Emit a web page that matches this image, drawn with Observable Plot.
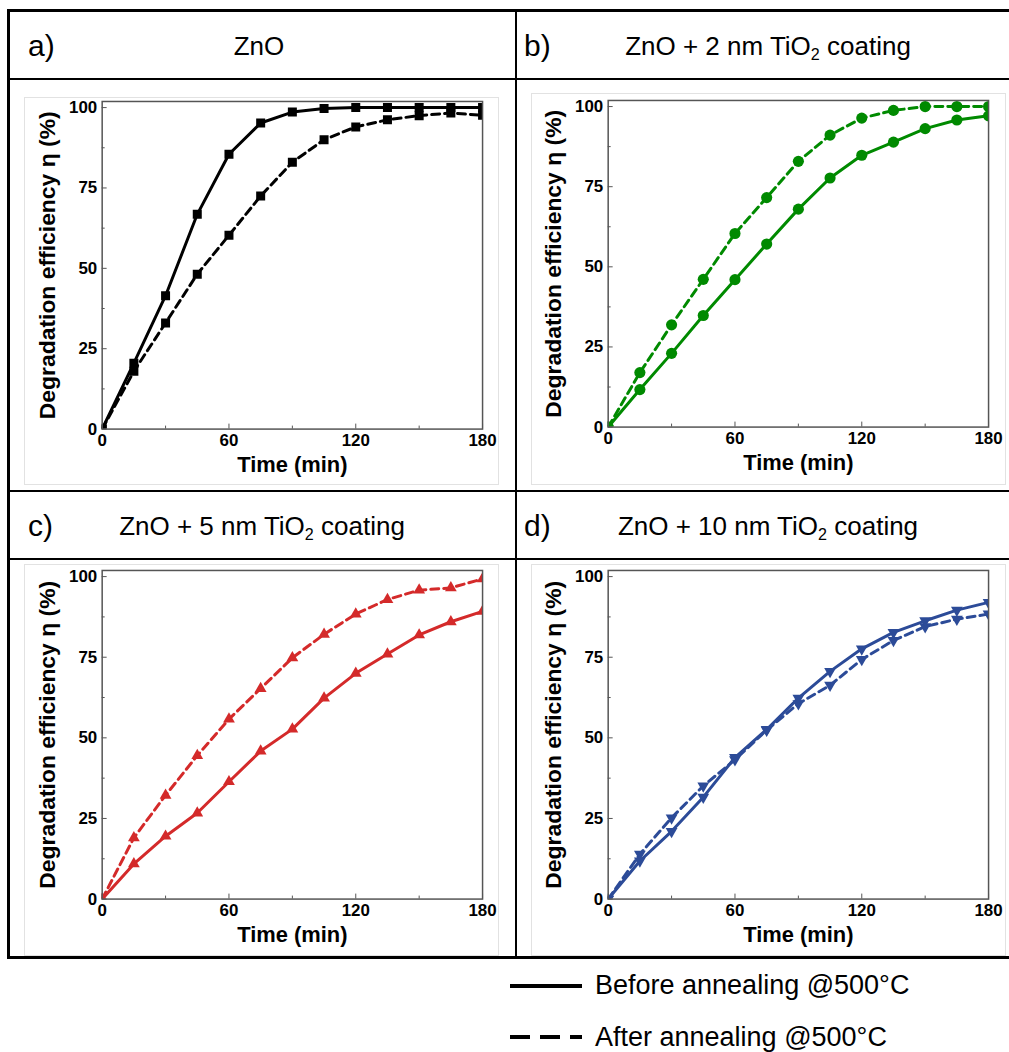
<!DOCTYPE html>
<html><head><meta charset="utf-8">
<script src="https://cdn.jsdelivr.net/npm/d3@7"></script>
<script src="https://cdn.jsdelivr.net/npm/@observablehq/plot@0.6"></script>
<style>
html,body{margin:0;padding:0;background:#fff;}
body{width:1009px;height:1052px;overflow:hidden;position:relative;font-family:"Liberation Sans",Arial,sans-serif;}
.ln{position:absolute;background:#000;}
.lab{position:absolute;font-size:30px;line-height:1;color:#000;}
.ttl{position:absolute;font-size:26px;line-height:1;color:#000;white-space:nowrap;transform:translateX(-50%);}
.ttl sub{font-size:0.62em;vertical-align:-0.3em;line-height:0;}
.box{position:absolute;border:1px solid #e2e2e2;box-sizing:border-box;background:#fff;}
.box svg{position:absolute;left:-1px;top:-1px;}
.leg{position:absolute;font-size:27px;line-height:1;color:#000;white-space:nowrap;}
</style></head><body>
<script>
// ---- data ----
const time = [0, 15, 30, 45, 60, 75, 90, 105, 120, 135, 150, 165, 180];
const znoBefore  = [0, 20.5, 41.5, 66.8, 85.5, 95.2, 98.6, 99.7, 100, 100, 100, 100, 100];
const znoAfter   = [0, 18.0, 33.0, 48.2, 60.3, 72.5, 83.0, 90.0, 94.0, 96.2, 97.5, 98.3, 97.6];
const ti2Before  = [0, 11.7, 23.0, 34.8, 46.0, 57.1, 68.0, 77.7, 84.8, 88.9, 93.1, 95.8, 97.1];
const ti2After   = [0, 17.0, 31.9, 46.1, 60.4, 71.6, 82.9, 91.1, 96.4, 98.8, 100, 100, 100];
const ti5Before  = [0, 10.9, 19.5, 26.7, 36.4, 45.9, 52.7, 62.3, 70.0, 76.0, 81.9, 86.0, 89.2];
const ti5After   = [0, 19.0, 32.2, 44.5, 55.8, 65.3, 74.8, 82.1, 88.4, 92.9, 95.8, 96.5, 99.3];
const ti10Before = [0, 11.8, 21.0, 31.6, 43.9, 52.6, 62.3, 70.6, 77.6, 82.7, 86.3, 89.6, 92.0];
const ti10After  = [0, 13.9, 25.2, 35.1, 43.2, 52.4, 60.6, 66.3, 74.3, 80.2, 84.5, 86.8, 88.4];

const xTicks = [0, 60, 120, 180];
const xMinor = [30, 90, 150];
const yTicks = [0, 25, 50, 75, 100];
const yMinor = [12.5, 37.5, 62.5, 87.5];
const xLabel = "Time (min)";
const yLabel = "Degradation efficiency \u03b7 (%)";
const seriesNames = ["Before annealing @500\u00b0C", "After annealing @500\u00b0C"];

const triangleDown = {
  draw(ctx, size) {
    const y = -Math.sqrt(size / (3 * Math.sqrt(3)));
    ctx.moveTo(0, -2 * y);
    ctx.lineTo(-Math.sqrt(3) * y, y);
    ctx.lineTo(Math.sqrt(3) * y, y);
    ctx.closePath();
  }
};

const panels = [
  {label: "a)", title: "ZnO", before: znoBefore, after: znoAfter, color: "#000000", symbol: "square", r: 5.1,
   box: [24, 97, 475, 388], m: [4, 15, 55, 78], lab: [28, 31], tc: 259, ty: 33},
  {label: "b)", title: "ZnO + 2 nm TiO<sub>2</sub> coating", before: ti2Before, after: ti2After, color: "#008a00", symbol: "circle", r: 5.6,
   box: [531, 93, 475, 392], m: [7, 16, 57, 77], lab: [524, 31], tc: 768, ty: 33},
  {label: "c)", title: "ZnO + 5 nm TiO<sub>2</sub> coating", before: ti5Before, after: ti5After, color: "#d42a2a", symbol: "triangle", r: 4.4,
   box: [24, 564, 475, 392], m: [6, 15, 56, 78], lab: [28, 511], tc: 262, ty: 513},
  {label: "d)", title: "ZnO + 10 nm TiO<sub>2</sub> coating", before: ti10Before, after: ti10After, color: "#2c4b98", symbol: triangleDown, r: 4.4,
   box: [531, 564, 475, 392], m: [6, 16, 56, 77], lab: [524, 511], tc: 768, ty: 513}
];

function line(l, t, w, h) {
  const d = document.createElement("div");
  d.className = "ln";
  Object.assign(d.style, {left: l + "px", top: t + "px", width: w + "px", height: h + "px"});
  document.body.appendChild(d);
}

for (const p of panels) {
  const [bl, bt, bw, bh] = p.box;
  const [mt, mr, mb, ml] = p.m;
  const rows = time.map((t, i) => ({t, before: p.before[i], after: p.after[i]}));
  const chart = Plot.plot({
    width: bw, height: bh,
    marginTop: mt, marginRight: mr, marginBottom: mb, marginLeft: ml,
    x: {domain: [0, 180]},
    y: {domain: [0, 101.9]},
    style: {fontFamily: "'Liberation Sans', Arial, sans-serif", background: "transparent", overflow: "visible", color: "#000"},
    marks: [
      Plot.axisX(xTicks, {tickSize: 0, tickPadding: 5, fontSize: 17, fontWeight: "bold", label: null, tickFormat: d => String(d)}),
      Plot.axisY(yTicks, {tickSize: 0, tickPadding: 5, fontSize: 17, fontWeight: "bold", label: null, tickFormat: d => String(d)}),
      Plot.axisX(xTicks, {tickSize: 5, dy: -5, stroke: "#555", tickFormat: () => "", label: null}),
      Plot.axisX(xMinor, {tickSize: 3, dy: -3, stroke: "#555", tickFormat: () => "", label: null}),
      Plot.axisY(yTicks, {tickSize: 5, dx: 5, stroke: "#555", tickFormat: () => "", label: null}),
      Plot.axisY(yMinor, {tickSize: 3, dx: 3, stroke: "#555", tickFormat: () => "", label: null}),
      Plot.line(rows, {x: "t", y: "after", stroke: p.color, strokeWidth: 3, strokeDasharray: "8,5", clip: true}),
      Plot.line(rows, {x: "t", y: "before", stroke: p.color, strokeWidth: 3, clip: true}),
      Plot.dot(rows, {x: "t", y: "after", symbol: p.symbol, r: p.r, fill: p.color, clip: true}),
      Plot.dot(rows, {x: "t", y: "before", symbol: p.symbol, r: p.r, fill: p.color, clip: true}),
      Plot.frame({stroke: "#555", strokeWidth: 1.5}),
      Plot.text([xLabel], {frameAnchor: "bottom", dy: 43, text: d => d, fontSize: 22, fontWeight: "bold", fill: "#000", textAnchor: "middle"}),
      Plot.text([yLabel], {frameAnchor: "left", dx: -55, rotate: -90, text: d => d, fontSize: 23, fontWeight: "bold", fill: "#000", textAnchor: "middle", lineAnchor: "middle"})
    ]
  });
  const box = document.createElement("div");
  box.className = "box";
  Object.assign(box.style, {left: bl + "px", top: bt + "px", width: bw + "px", height: bh + "px"});
  box.appendChild(chart);
  document.body.appendChild(box);

  const lab = document.createElement("div");
  lab.className = "lab";
  lab.textContent = p.label;
  Object.assign(lab.style, {left: p.lab[0] + "px", top: p.lab[1] + "px"});
  document.body.appendChild(lab);

  const ttl = document.createElement("div");
  ttl.className = "ttl";
  ttl.innerHTML = p.title;
  Object.assign(ttl.style, {left: p.tc + "px", top: p.ty + "px"});
  document.body.appendChild(ttl);
}

// table borders
line(7, 9, 1010, 3);
line(7, 78, 1010, 2);
line(7, 490, 1010, 2);
line(7, 558, 1010, 2);
line(7, 956, 1010, 3);
line(7, 9, 3, 950);
line(515, 9, 2, 950);

// legend
const legSvg = d3.select(document.body).append("svg")
  .attr("width", 90).attr("height", 80)
  .style("position", "absolute").style("left", "500px").style("top", "970px");
legSvg.append("line").attr("x1", 10).attr("x2", 82).attr("y1", 16).attr("y2", 16)
  .attr("stroke", "#000").attr("stroke-width", 4);
legSvg.append("line").attr("x1", 10).attr("x2", 82).attr("y1", 67).attr("y2", 67)
  .attr("stroke", "#000").attr("stroke-width", 4).attr("stroke-dasharray", "20,10");
seriesNames.forEach((s, i) => {
  const d = document.createElement("div");
  d.className = "leg";
  d.textContent = s;
  Object.assign(d.style, {left: "595px", top: (972 + i * 52) + "px"});
  document.body.appendChild(d);
});
</script>
</body></html>
